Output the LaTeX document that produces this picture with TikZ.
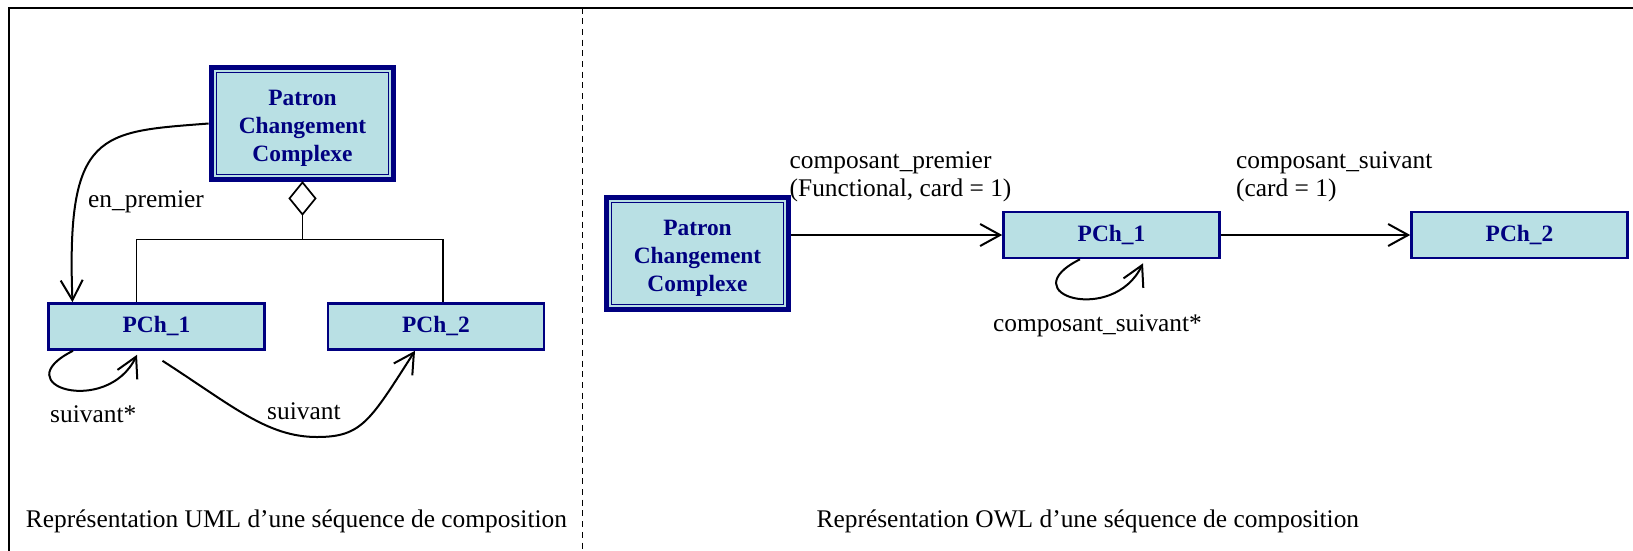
\documentclass[tikz,border=0pt]{standalone}
\usepackage{fontspec}
\setmainfont{Liberation Serif}
\usepackage{tikz}
\usetikzlibrary{arrows.meta}
\definecolor{boxblue}{RGB}{185,224,228}
\definecolor{boxnavy}{RGB}{0,0,128}

\begin{document}
\begin{tikzpicture}[x=1pt, y=-1pt,
    txt/.style={inner sep=0pt, font=\fontsize{25.4pt}{28pt}\selectfont},
    cls/.style={draw=boxnavy, fill=boxblue, text=boxnavy, line width=2.6pt, inner sep=0pt,
        minimum width=216pt, minimum height=46pt, font=\bfseries\fontsize{23.4pt}{28pt}\selectfont},
    patron/.style={cls, line width=5.8pt, minimum width=182pt, minimum height=112pt, align=center,
        path picture={\draw[boxnavy, line width=1.6pt]
            ([xshift=5pt,yshift=-5pt]path picture bounding box.north west) rectangle
            ([xshift=-5pt,yshift=5pt]path picture bounding box.south east);}},
    lnk/.style={line width=2pt, -{Straight Barb[length=20pt,width=22pt]}}]
    \useasboundingbox (0,0) rectangle (1633,550);

    % frame and divider
    \draw[line width=2pt] (8.5,551) -- (8.5,7.5) -- (1634,7.5);
    \draw[line width=1.3pt, dash pattern=on 6pt off 4.7pt] (582.3,7.5) -- (582.3,551);

    % UML side
    \node[patron] (uP) at (302.5,123.5) {\rule{0pt}{24pt}Patron\\Changement\\Complexe};
    \node[cls] (u1) at (156.5,326.5) {PCh\_1};
    \node[cls] (u2) at (436,326.5) {PCh\_2};

    \draw[line width=1.7pt, fill=white] (uP.south) -- ++(13,16) -- ++(-13,16) coordinate (dia) -- ++(-13,-16) -- cycle;
    \draw[line width=1.3pt] (dia) -- ++(0,25) coordinate (join);
    \draw[line width=1.3pt] ([xshift=-20pt]u1.north) |- (join) -| ([xshift=7pt]u2.north);

    \draw[lnk] (uP.west) .. controls +(-108.6,8.5) and +(-6.5,-172) .. ([xshift=-84pt]u1.north);
    \draw[lnk] ([xshift=-83.5pt]u1.south) .. controls +(-70,35) and +(-30,62) .. ([xshift=-19.5pt,yshift=-4pt]u1.south);
    \draw[lnk] ([xshift=6pt,yshift=-10pt]u1.south) .. controls +(70,45) and +(-50,0) .. (317,437)
        .. controls +(45,0) and +(-45,70) .. ([xshift=-21pt]u2.south);

    \node[txt, anchor=base west] (lprem) at (88,207) {en\_premier};
    \node[txt, anchor=base west] (lsuivs) at (50,422) {suivant*};
    \node[txt, anchor=base west] (lsuiv) at (267,419) {suivant};
    \node[txt, anchor=base] (cuml) at (296.5,527) {Représentation UML d’une séquence de composition};

    % OWL side
    \node[patron] (oP) at (697.5,253.5) {\rule{0pt}{24pt}Patron\\Changement\\Complexe};
    \node[cls] (o1) at (1111.5,235) {PCh\_1};
    \node[cls] (o2) at (1519.5,235) {PCh\_2};

    \draw[lnk] (oP.east |- o1.west) -- (o1.west);
    \draw[lnk] (o1) -- (o2);
    \draw[lnk] ([xshift=-31.5pt]o1.south) .. controls +(-70,35) and +(-30,62) .. ([xshift=31.5pt,yshift=-4pt]o1.south);

    \node[txt, anchor=base west] (lcp) at (789.5,168) {composant\_premier};
    \node[txt, anchor=base west] (lcpc) at (789.5,196) {(Functional, card = 1)};
    \node[txt, anchor=base west] (lcs) at (1236,168) {composant\_suivant};
    \node[txt, anchor=base west] (lcsc) at (1236,196) {(card = 1)};
    \node[txt, anchor=base] (lcsx) at (1097.5,331.5) {composant\_suivant*};
    \node[txt, anchor=base] (cowl) at (1087.9,527) {Représentation OWL d’une séquence de composition};
\end{tikzpicture}
\end{document}
